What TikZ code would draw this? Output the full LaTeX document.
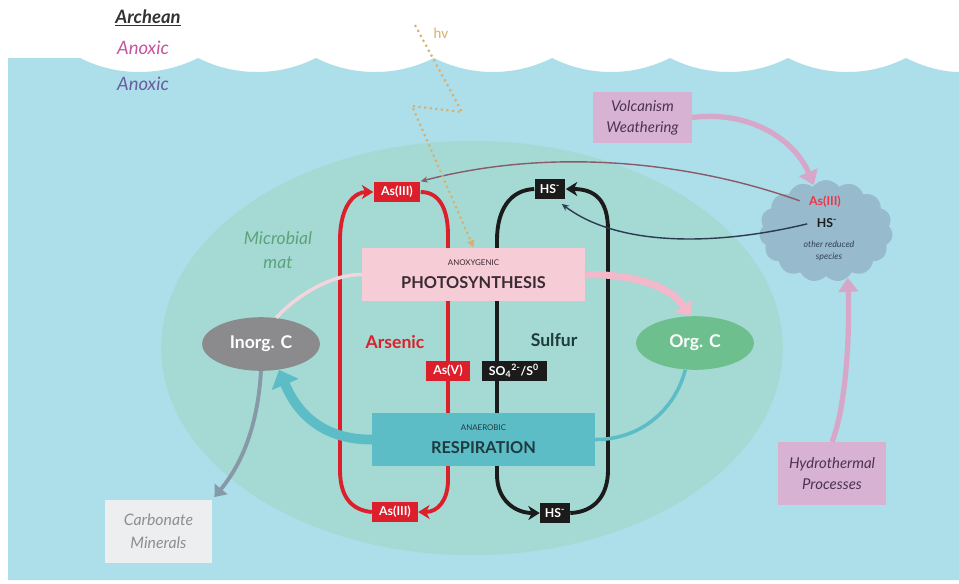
\documentclass[tikz,border=0pt]{standalone}
\usepackage{fontspec}
\setmainfont{Lato}
\usetikzlibrary{arrows.meta,shapes.geometric,shapes.symbols}

\definecolor{water}{HTML}{ACDFEA}
\definecolor{matgreen}{HTML}{A5D9D3}
\definecolor{photopink}{HTML}{F6CCD6}
\definecolor{respteal}{HTML}{5CBDC6}
\definecolor{asred}{HTML}{DD1F2B}
\definecolor{sulblack}{HTML}{1B1B1B}
\definecolor{sultext}{HTML}{1F3B3B}
\definecolor{inorggray}{HTML}{8B8B8D}
\definecolor{orggreen}{HTML}{6DBF8D}
\definecolor{cloudblue}{HTML}{98BACD}
\definecolor{cloudred}{HTML}{E8364A}
\definecolor{cloudtext}{HTML}{30405A}
\definecolor{srcpink}{HTML}{D8B2D2}
\definecolor{srctext}{HTML}{4B3352}
\definecolor{carbfill}{HTML}{EDEEF0}
\definecolor{carbtext}{HTML}{8E8E8E}
\definecolor{mattext}{HTML}{5BA47B}
\definecolor{pinkarrow}{HTML}{F3B8C9}
\definecolor{pinklight}{HTML}{F2D5DD}
\definecolor{grayarrow}{HTML}{8798A9}
\definecolor{volcarrow}{HTML}{D7A7CA}
\definecolor{hvcolor}{HTML}{D9AE6E}
\definecolor{txtdark}{HTML}{3B2A33}
\definecolor{resptext}{HTML}{1F3A40}
\definecolor{archtext}{HTML}{333333}
\definecolor{anoxpink}{HTML}{C6549E}
\definecolor{anoxpurple}{HTML}{6C5B9E}
\definecolor{thinred}{HTML}{8A5A6A}
\definecolor{thinblue}{HTML}{2A3A50}

\pgfdeclarelayer{backdrop}
\pgfdeclarelayer{cycles}
\pgfsetlayers{backdrop,cycles,main}

\begin{document}
\begin{tikzpicture}[x=0.02cm, y=-0.02cm,
        spbox/.style={fill=#1, text=white, font=\bfseries\fontsize{7}{8}\selectfont, inner sep=1pt, minimum height=11.8pt},
        procbox/.style={fill=#1, align=center, minimum width=126.4pt, minimum height=30.5pt, inner sep=0pt},
        carbon/.style={ellipse, fill=#1, text=white, font=\bfseries\fontsize{10}{12}\selectfont, minimum width=67pt, minimum height=30.5pt},
        srcbox/.style={fill=srcpink, text=srctext, font=\itshape\fontsize{8.5}{12}\selectfont, align=center, inner sep=0pt},
        cycleline/.style={draw=#1, line width=2.2pt},
        cyclehead/.style={-{Stealth[length=6.5pt,width=8pt,inset=2pt]}},
        thinflow/.style={draw=#1, line width=0.8pt, -{Stealth[length=4pt,width=3.5pt]}},
    ]
    \useasboundingbox (0,0) rectangle (959,583);

    \begin{pgfonlayer}{backdrop}
        \fill[white] (0,0) rectangle (959,583);
        \fill[water] (8,580) -- (8,58) -- (80,58)
            \foreach \p in {80,198,316,434,552,670,788} {
                .. controls (\p+20,68) and (\p+40,72) .. (\p+59,72)
                .. controls (\p+78,72) and (\p+98,68) .. (\p+118,58)
            }
            .. controls (926,68) and (945,72) .. (959,72) -- (959,580) -- cycle;
        \fill[matgreen] (472,348) ellipse [x radius=176.9pt, y radius=117.9pt];
    \end{pgfonlayer}

    \node(archean) at(148, 18) [text=archtext, font=\bfseries\itshape\fontsize{10.5}{12}\selectfont] {\underline{Archean}};
    \node(anox_a)  at(143, 48) [text=anoxpink, font=\itshape\fontsize{10.5}{12}\selectfont] {Anoxic};
    \node(anox_b)  at(143, 84) [text=anoxpurple, font=\itshape\fontsize{10.5}{12}\selectfont] {Anoxic};
    \node(mat_lbl) at(278, 250) [text=mattext, align=center, font=\itshape\fontsize{10}{13.5}\selectfont] {Microbial\\mat};

    \node(photo) at(473.5, 274.5) [procbox=photopink, text=txtdark]
        {{\fontsize{4.5}{6}\selectfont ANOXYGENIC}\\[1pt]{\bfseries\fontsize{9.3}{11}\selectfont PHOTOSYNTHESIS}};
    \node(resp)  at(483.5, 439.5) [procbox=respteal, text=resptext]
        {{\fontsize{4.5}{6}\selectfont ANAEROBIC}\\[1pt]{\bfseries\fontsize{9.3}{11}\selectfont RESPIRATION}};

    \node(ars_top) at(397, 192) [spbox=asred, minimum width=26.6pt] {As(III)};
    \node(ars_v)   at(448, 371) [spbox=asred, minimum width=25pt] {As(V)};
    \node(ars_bot) at(395, 512) [spbox=asred, minimum width=26pt] {As(III)};
    \node(sul_top) at(550, 189) [spbox=sulblack, minimum width=17.6pt] {HS\textsuperscript{-}};
    \node(sul_ox)  at(514, 371) [spbox=sulblack, minimum width=37pt] {SO\textsubscript{4}\textsuperscript{2-}/S\textsuperscript{0}};
    \node(sul_bot) at(555, 513) [spbox=sulblack, minimum width=17pt] {HS\textsuperscript{-}};
    \node(ars_lbl) at(395, 342) [text=asred, font=\bfseries\fontsize{10}{12}\selectfont] {Arsenic};
    \node(sul_lbl) at(554, 340) [text=sultext, font=\bfseries\fontsize{10}{12}\selectfont] {Sulfur};

    \node(inorg) at(261, 344) [carbon=inorggray] {Inorg. C};
    \node(org)   at(695, 343) [carbon=orggreen] {Org. C};

    \node(carb)  at(158.5, 531.5) [srcbox, fill=carbfill, text=carbtext, minimum width=60.7pt, minimum height=35.7pt,
        font=\itshape\fontsize{9}{13}\selectfont] {Carbonate\\Minerals};
    \node(volc)  at(642.5, 117.5) [srcbox, minimum width=56pt, minimum height=29pt] {Volcanism\\Weathering};
    \node(hydro) at(832, 473.5) [srcbox, minimum width=61pt, minimum height=35.7pt] {Hydrothermal\\Processes};

    \node(cloud) at(826, 231) [cloud, cloud puffs=15, cloud puff arc=110, cloud ignores aspect, fill=cloudblue,
        minimum width=76pt, minimum height=58pt, inner sep=0pt] {};
    \node(cl_as)  at(825, 202) [text=cloudred, font=\bfseries\fontsize{7}{8}\selectfont] {As(III)};
    \node(cl_hs)  at(827, 223) [text=sulblack, font=\bfseries\fontsize{7}{8}\selectfont] {HS\textsuperscript{-}};
    \node(cl_txt) at(829, 251) [text=cloudtext, align=center, font=\itshape\fontsize{5}{7}\selectfont] {other reduced\\species};

    \node(hv_lbl) at(441, 33) [text=hvcolor, font=\fontsize{8}{10}\selectfont] {hv};
    \coordinate(hv_a) at(415, 25);
    \coordinate(hv_b) at(462, 112);
    \coordinate(hv_c) at(412, 106);

    % arsenic and sulfur cycles
    \begin{pgfonlayer}{cycles}
        \draw[cycleline=asred, cyclehead] (ars_bot.west) .. controls (350,510) and (340,495) .. (340,470)
            -- (340,240) .. controls (340,205) and (355,192) .. (ars_top.west);
        \draw[cycleline=asred, cyclehead] (ars_top.east) .. controls (440,192) and (448,210) .. (448,235)
            -- (448,480) .. controls (448,500) and (438,512) .. (ars_bot.east);
        \draw[cycleline=sulblack, cyclehead] (sul_top.west) .. controls (510,190) and (497,210) .. (497,240)
            -- (497,475) .. controls (497,500) and (515,513) .. (sul_bot.west);
        \draw[cycleline=sulblack, cyclehead] (sul_bot.east) .. controls (595,512) and (608,495) .. (608,470)
            -- (608,230) .. controls (608,200) and (595,189) .. (sul_top.east);
    \end{pgfonlayer}

    % carbon
    \draw[pinklight, line width=2pt] (inorg.60) .. controls (300,292) and (335,274) .. (photo.west);
    \draw[pinkarrow, line width=4pt, -{Triangle[length=7pt,width=12pt]}]
        (photo.east) .. controls (630,274) and (670,285) .. (org.100);
    \draw[respteal, line width=2pt] (org.250) .. controls (675,410) and (640,440) .. (resp.east);
    \draw[respteal, line width=5.5pt, -{Triangle[length=9pt,width=16pt]}]
        (resp.west) .. controls (330,440) and (300,420) .. (inorg.305);
    \draw[grayarrow, line width=2.2pt, shorten >=2pt, -{Triangle[length=6pt,width=9pt]}]
        (inorg.south) .. controls (258,420) and (245,460) .. (carb.north east);

    % sources of reduced species
    \draw[volcarrow, line width=3pt, -{Triangle[length=8pt,width=11pt]}]
        (volc.east) .. controls (750,110) and (795,140) .. (cloud.105);
    \draw[volcarrow, line width=3pt, -{Triangle[length=8pt,width=11pt]}]
        (hydro.north) .. controls (845,410) and (850,340) .. (cloud.-65);
    \draw[thinflow=thinred, shorten <=2pt] (cl_as.west) .. controls (700,165) and (560,145) .. (ars_top.north east);
    \draw[thinflow=thinblue, shorten <=2pt, shorten >=4pt] (cl_hs.west) .. controls (720,245) and (620,248) .. (sul_top.-60);

    \draw[hvcolor, dotted, line width=1.2pt, -{Triangle[length=4pt,width=4pt]}]
        (hv_a) -- (hv_b) -- (hv_c) -- (photo.north);
\end{tikzpicture}
\end{document}
